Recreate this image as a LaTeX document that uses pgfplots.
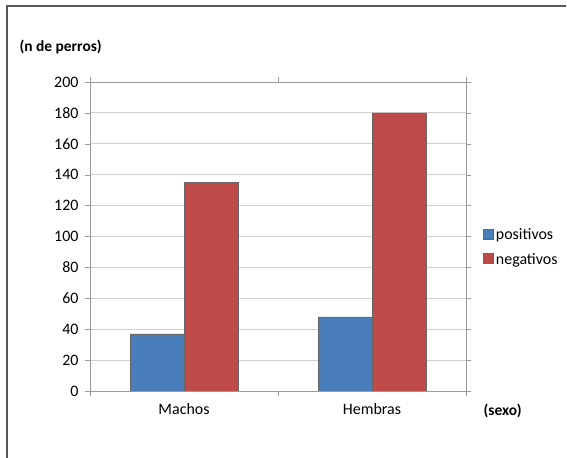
\documentclass[border=0pt]{standalone}
\usepackage{fontspec}
\setmainfont{Carlito}
\usepackage{pgfplots}
\pgfplotsset{compat=1.18}
\definecolor{xlblue}{HTML}{4A7EBB}
\definecolor{xlred}{HTML}{BE4B48}
\definecolor{xlgrid}{HTML}{D0D0D0}
\definecolor{xlaxis}{HTML}{9A9A9A}
\begin{document}
\begin{tikzpicture}[x=1bp,y=1bp]
\useasboundingbox (0,0) rectangle (567,458);
\draw[line width=1.5bp, black!65] (7,0) -- (7,452) -- (566,452);
\begin{axis}[
    at={(90bp,67bp)}, anchor=south west,
    scale only axis, width=376bp, height=309bp,
    ybar=0pt, bar width=54bp,
    xmin=-0.5, xmax=1.5,
    ymin=0, ymax=200,
    ytick={0,20,...,200},
    xtick={0,1}, xticklabels={Machos,Hembras},
    major x tick style={draw=none},
    extra x ticks={-0.5,0.5,1.5},
    extra x tick labels={},
    extra x tick style={major x tick style={draw=xlaxis}, grid=none},
    tick align=outside, major tick length=5bp,
    ymajorgrids, grid style={xlgrid, line width=0.8bp},
    axis line style={xlaxis, line width=0.8bp},
    y tick style={xlaxis},
    ticklabel style={font=\fontsize{16}{18}\selectfont},
    /pgf/number format/assume math mode=true,
    xticklabel style={yshift=-4bp},
    yticklabel style={xshift=-3bp},
    legend style={at={(1.038,0.465)}, anchor=west, draw=none, fill=none,
        font=\fontsize{16}{18}\selectfont, row sep=8bp,
        cells={anchor=west}},
    legend image code/.code={\draw[#1] (0bp,-4bp) rectangle (10bp,6bp);},
]
\addplot[fill=xlblue, draw=black!60, line width=0.5bp]
    coordinates {(0,37) (1,48)};
\addlegendentry{positivos}
\addplot[fill=xlred, draw=black!60, line width=0.5bp]
    coordinates {(0,135) (1,180)};
\addlegendentry{negativos}
\end{axis}
\node[anchor=west, font=\bfseries\fontsize{15.5}{18}\selectfont] at (16,411) {(n de perros)};
\node[anchor=west, font=\bfseries\fontsize{15.5}{18}\selectfont] at (480,47) {(sexo)};
\end{tikzpicture}
\end{document}
